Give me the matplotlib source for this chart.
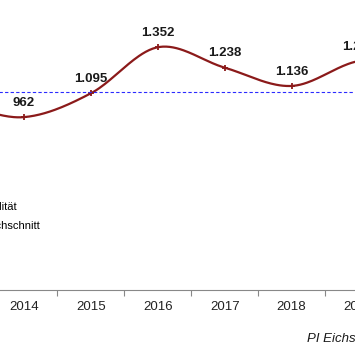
import matplotlib
matplotlib.use('Agg')
import matplotlib.pyplot as plt
from matplotlib.lines import Line2D
import numpy as np

plt.rcParams['font.family'] = ['Liberation Sans', 'DejaVu Sans']

# data (2013 lies left of the visible area)
years = ['2013', '2014', '2015', '2016', '2017', '2018', '2019']
cases = [1030, 962, 1095, 1352, 1238, 1136, 1275]
average = 1100
labels = ['Gesamtkriminalität', '10-Jahres-Durchschnitt']
source = 'PI Eichstätt'

W = H = 355.0


def smooth(xs, ys, steps=40):
    # catmull-rom like the excel "smoothed line"
    x = np.asarray(xs, float)
    y = np.asarray(ys, float)
    xp = np.concatenate([[2*x[0]-x[1]], x, [2*x[-1]-x[-2]]])
    yp = np.concatenate([[y[0]], y, [y[-1]]])
    out_x, out_y = [], []
    for i in range(1, len(xp)-2):
        t = np.linspace(0, 1, steps)
        for arr, out in ((xp, out_x), (yp, out_y)):
            p0, p1, p2, p3 = arr[i-1], arr[i], arr[i+1], arr[i+2]
            out.extend(0.5*((2*p1) + (-p0+p2)*t + (2*p0-5*p1+4*p2-p3)*t**2
                            + (-p0+3*p1-3*p2+p3)*t**3))
    return np.array(out_x), np.array(out_y)


fig = plt.figure(figsize=(3.55, 3.55), dpi=100)

step = 66.9
left = 24 - 1.5*step
ax = fig.add_axes([left/W, 65.5/H, 7*step/W, 286.7/H])

xs = np.arange(len(years))
sx, sy = smooth(xs, cases)
ax.plot(sx, sy, color='#8b1a1a', lw=1.6, solid_capstyle='round')
ax.plot(xs, cases, linestyle='none', marker='+', ms=4.5, mew=1.3, color='#8b1a1a')
ax.plot(xs, [average]*len(xs), color='#2b2bff', lw=0.8, dashes=(3, 2))

for i, v in enumerate(cases):
    ax.annotate(format(v, ',').replace(',', '.'), (i, v), xytext=(0, 6),
                textcoords='offset points', ha='center', va='bottom',
                fontweight='bold', fontsize=9.5, color='#1a1a1a')

ax.set_xlim(-0.5, len(years)-0.5)
ax.set_ylim(0, 1600)
ax.set_yticks([])
ax.set_xticks(xs)
ax.set_xticklabels(years)
ax.set_xticks(np.arange(len(years)-1)+0.5, minor=True)
ax.tick_params(axis='x', which='major', length=0, pad=8, labelsize=9.5, labelcolor='#222222')
ax.tick_params(axis='x', which='minor', length=4, width=0.8, color='#888888', direction='out')
for s in ['left', 'top', 'right']:
    ax.spines[s].set_visible(False)
ax.spines['bottom'].set_color('#888888')
ax.spines['bottom'].set_linewidth(0.8)
ax.patch.set_visible(False)

handles = [Line2D([], [], color='#8b1a1a', lw=1.6, marker='+', ms=4.5, mew=1.3),
           Line2D([], [], color='#2b2bff', lw=0.8, dashes=(3, 2))]
fig.legend(handles, labels, loc='upper left', bbox_to_anchor=(-107/W, 153/H),
           bbox_transform=fig.transFigure, frameon=False, fontsize=8,
           borderpad=0, borderaxespad=0, handlelength=2, handletextpad=0.8,
           labelspacing=0.8)

fig.text(307/W, (H-341.5)/H, source, style='italic', fontsize=9.5,
         ha='left', va='baseline', color='#1a1a1a')

fig.savefig('out.png', dpi=100)
